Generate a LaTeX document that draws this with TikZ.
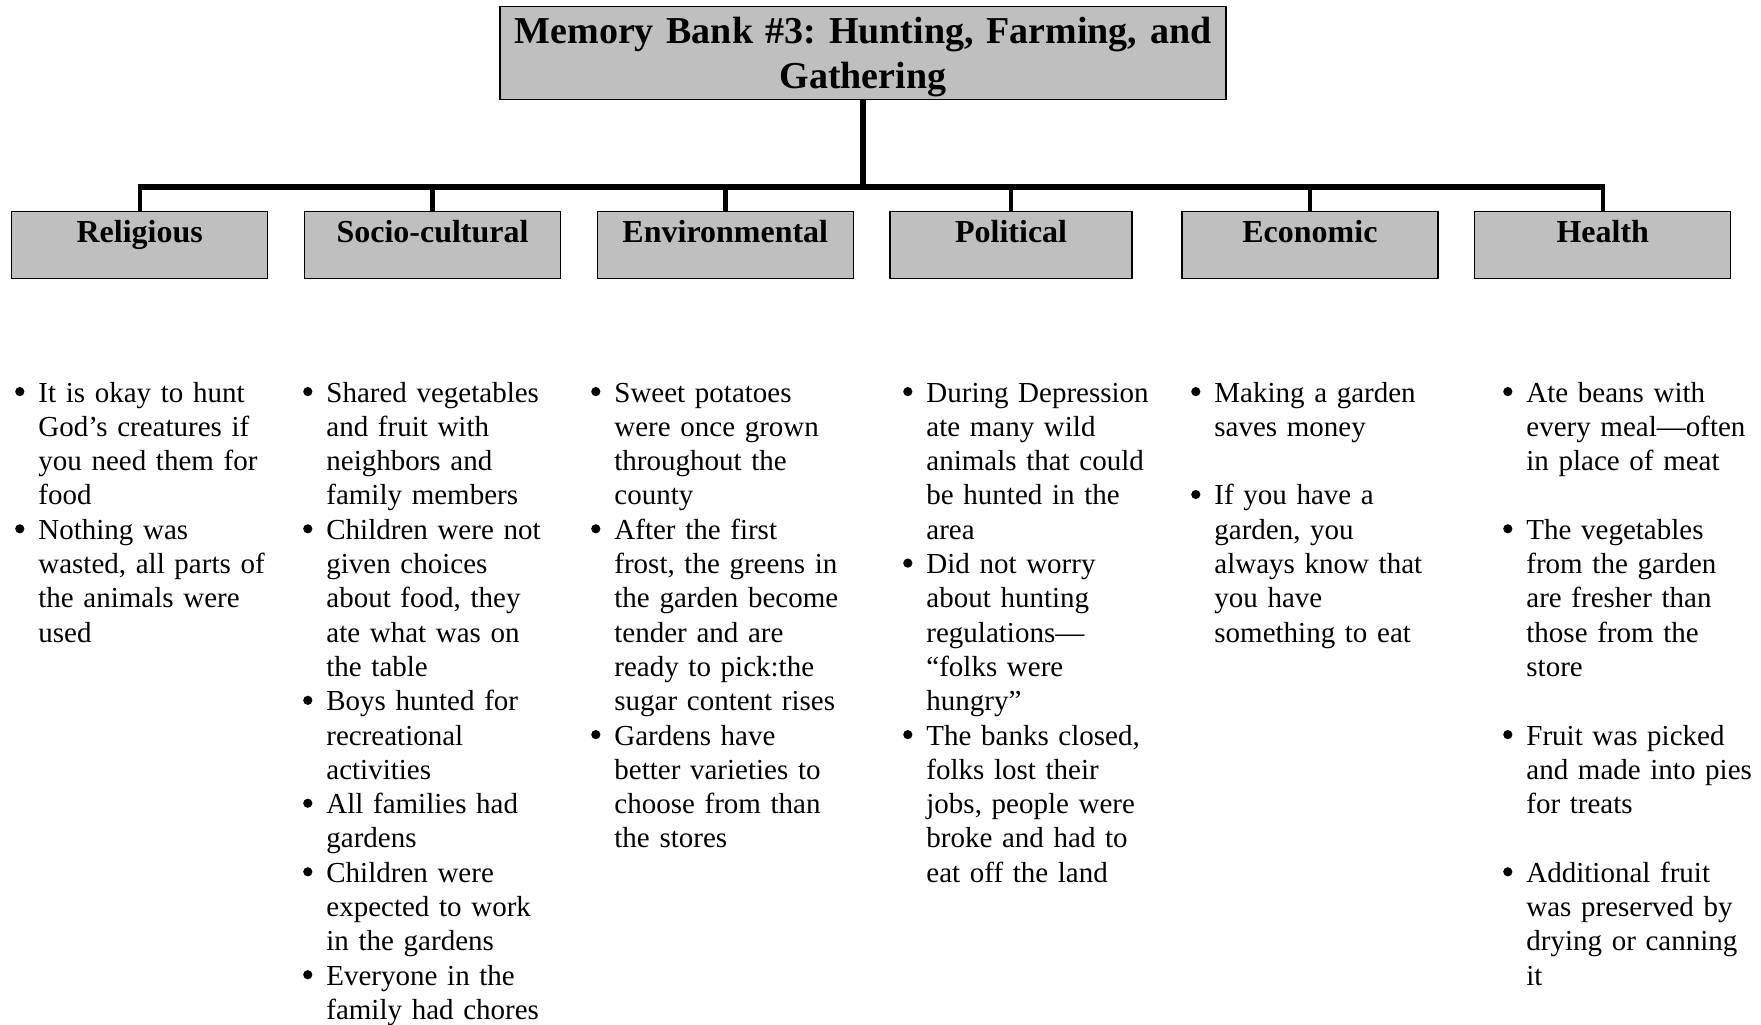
\documentclass[tikz,border=0pt]{standalone}
\usepackage{fontspec}
\setmainfont{Liberation Serif}
\usetikzlibrary{positioning}
\newcommand{\bul}{\leavevmode\llap{\tikz[baseline=-5.2pt]\fill (0,0) circle (2.3pt);\hspace{7pt}}}

\begin{document}
\begin{tikzpicture}[x=0.5pt,y=-0.5pt,node distance=17.7pt,
	box/.style={draw=black,line width=0.7pt,fill=black!25,inner sep=0pt},
	bank/.style={box,minimum width=363pt,text width=363pt,align=center,text height=18.5pt,text depth=28pt,font=\fontsize{19}{22.5}\selectfont\bfseries\frenchspacing},
	topic/.style={box,minimum width=128pt,text height=15.5pt,text depth=18pt,font=\fontsize{16}{19}\selectfont\bfseries},
	notes/.style={anchor=base west,inner sep=0pt,text width=140pt,align=left,font=\fontsize{14.5}{17.15}\selectfont\frenchspacing},
	trunk/.style={line width=3pt},
	branch/.style={line width=2.2pt}]
	\useasboundingbox (0,0) rectangle (1761,1024);
	\node[bank,anchor=north] (bank) at (863,6) {Memory Bank \#3: Hunting, Farming, and\\ Gathering};
	\node[topic,anchor=north west] (rel) at (11,211) {Religious};
	\node[topic,right=of rel] (soc) {Socio-cultural};
	\node[topic,right=of soc] (env) {Environmental};
	\node[topic,minimum width=121pt,right=of env] (pol) {Political};
	\node[topic,right=24.2pt of pol] (eco) {Economic};
	\node[topic,right=of eco] (hea) {Health};
	\coordinate (bar) at (0,187);
	\coordinate (bartop) at (0,184);
	\draw[trunk] (bank.south) -- (bank.south |- bar);
	\draw[trunk] (rel.north |- bar) -- (hea.north |- bar);
	\foreach \n in {rel,soc,env,pol,eco,hea}
		\draw[branch] (\n.north |- bartop) -- (\n.north);
	% bullet lists
	\node[notes] (relnotes) at (38,402) {\bul It is okay to hunt\\ God’s creatures if\\ you need them for\\ food\\
		\bul Nothing was\\ wasted, all parts of\\ the animals were\\ used};
	\node[notes] (socnotes) at (326,402) {\bul Shared vegetables\\ and fruit with\\ neighbors and\\ family members\\
		\bul Children were not\\ given choices\\ about food, they\\ ate what was on\\ the table\\
		\bul Boys hunted for\\ recreational\\ activities\\
		\bul All families had\\ gardens\\
		\bul Children were\\ expected to work\\ in the gardens\\
		\bul Everyone in the\\ family had chores};
	\node[notes] (envnotes) at (614,402) {\bul Sweet potatoes\\ were once grown\\ throughout the\\ county\\
		\bul After the first\\ frost, the greens in\\ the garden become\\ tender and are\\ ready to pick:the\\ sugar content rises\\
		\bul Gardens have\\ better varieties to\\ choose from than\\ the stores};
	\node[notes] (polnotes) at (926,402) {\bul During Depression\\ ate many wild\\ animals that could\\ be hunted in the\\ area\\
		\bul Did not worry\\ about hunting\\ regulations—\\ “folks were\\ hungry”\\
		\bul The banks closed,\\ folks lost their\\ jobs, people were\\ broke and had to\\ eat off the land};
	\node[notes] (econotes) at (1214,402) {\bul Making a garden\\ saves money\\[17.15pt]
		\bul If you have a\\ garden, you\\ always know that\\ you have\\ something to eat};
	\node[notes] (heanotes) at (1526,402) {\bul Ate beans with\\ every meal—often\\ in place of meat\\[17.15pt]
		\bul The vegetables\\ from the garden\\ are fresher than\\ those from the\\ store\\[17.15pt]
		\bul Fruit was picked\\ and made into pies\\ for treats\\[17.15pt]
		\bul Additional fruit\\ was preserved by\\ drying or canning\\ it};
\end{tikzpicture}
\end{document}
